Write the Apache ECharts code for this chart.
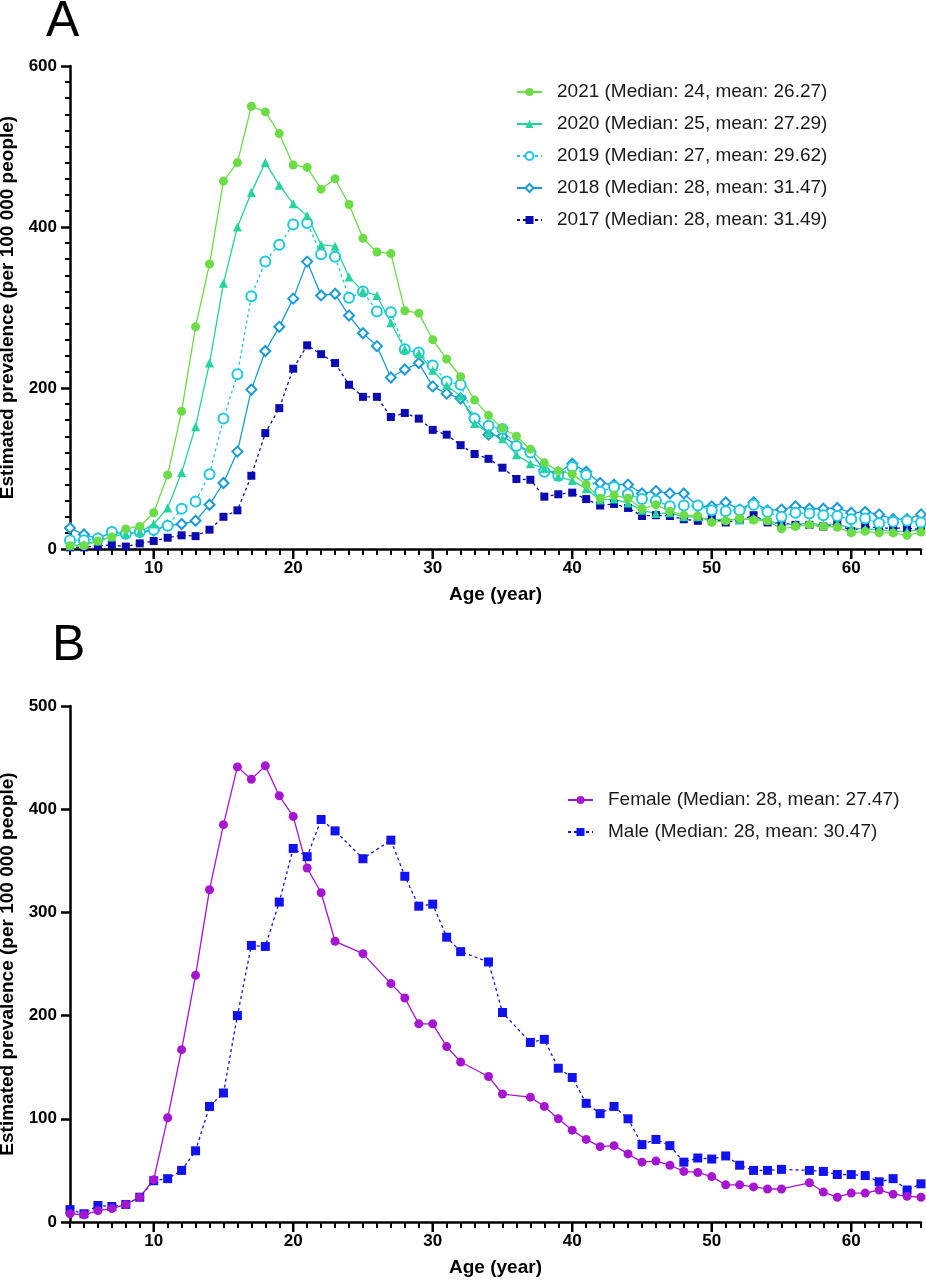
<!DOCTYPE html>
<html><head><meta charset="utf-8">
<script src="https://cdn.jsdelivr.net/npm/echarts@6/dist/echarts.min.js"></script>
<style>html,body{margin:0;padding:0;background:#fff}#c{width:926px;height:1280px}</style>
</head><body><div id="c"></div>
<script>
// ---------- DATA ----------
const ages = [4,5,6,7,8,9,10,11,12,13,14,15,16,17,18,19,20,21,22,23,24,25,26,27,28,29,30,31,32,33,34,35,36,37,38,39,40,41,42,43,44,45,46,47,48,49,50,51,52,53,54,55,56,57,58,59,60,61,62,63,64,65];
const xTickLabels = [10,20,30,40,50,60];

const namesA = ['2021 (Median: 24, mean: 26.27)','2020 (Median: 25, mean: 27.29)','2019 (Median: 27, mean: 29.62)','2018 (Median: 28, mean: 31.47)','2017 (Median: 28, mean: 31.49)'];
const prev2021 = [4,4,10,15,25,28,45,92,171,276,354,457,480,550,543,516,477,474,447,460,428,386,369,367,296,293,260,236,214,185,166,150,140,124,107,97,93,80,63,67,63,50,55,47,42,41,33,35,38,36,35,25,28,30,28,27,20,22,20,20,17,21];
const prev2020 = [4,6,10,15,19,21,31,51,95,152,231,330,400,443,480,452,429,414,378,376,338,320,315,281,248,243,222,203,190,156,144,137,117,106,100,90,85,75,61,62,57,48,44,45,40,40,36,37,36,38,36,30,31,32,30,31,26,25,24,22,22,24];
const prev2019 = [11,11,13,21,19,21,24,29,50,59,93,162,217,314,357,378,403,405,366,363,312,320,295,294,248,244,228,208,204,162,153,149,128,120,96,91,102,92,71,77,68,62,60,53,54,54,48,47,48,55,46,40,45,44,42,41,37,38,32,34,35,33];
const prev2018 = [26,18,13,21,19,21,23,29,31,35,55,82,121,198,246,276,311,357,315,317,290,268,252,213,223,231,202,193,187,162,142,140,129,121,98,95,106,96,82,80,80,69,72,69,69,53,53,58,49,58,48,49,53,50,50,51,45,46,43,37,37,43];
const prev2017 = [2,2,4,5,3,7,10,14,17,16,24,40,48,91,144,175,224,253,242,231,204,189,189,164,169,162,148,142,129,118,112,101,87,86,65,68,70,62,54,56,51,41,42,41,37,35,38,33,36,42,33,32,30,30,28,32,22,28,26,26,26,24];

const namesB = ['Female (Median: 28, mean: 27.47)','Male (Median: 28, mean: 30.47)'];
const prevFemale = [8,7,11,13,17,24,41,101,167,239,322,385,441,429,442,413,393,343,319,272,null,260,null,231,217,192,192,170,155,null,141,124,null,121,112,100,89,80,73,74,66,58,59,55,49,48,44,36,36,34,32,32,null,38,29,24,28,28,31,27,25,24];
const prevMale = [12,8,16,15,17,24,40,42,50,69,112,125,200,268,267,310,362,354,390,379,null,352,null,370,335,306,308,276,262,null,252,203,null,174,177,149,140,115,105,112,100,75,80,74,58,62,61,64,55,50,50,51,null,50,49,46,46,45,39,42,31,37];

const yTitle = 'Estimated prevalence (per 100 000 people)';
const xTitle = 'Age (year)';

// ---------- CHART ----------
const FONT = '"Liberation Sans", Arial, sans-serif';
const pairs = vals => ages.map((a, i) => [a, vals[i]]);

function xAxis(grid) {
  return { gridIndex: grid, type: 'value', position: 'bottom', min: 4, max: 65, interval: 1,
    axisLine: { show: true, onZero: false, lineStyle: { color: '#000', width: 2.5 } },
    axisTick: { show: true, length: 6, lineStyle: { color: '#000', width: 2 } },
    axisLabel: { show: true, fontSize: 17, fontWeight: 'bold', color: '#000', fontFamily: FONT, margin: 11,
                 formatter: v => (xTickLabels.indexOf(v) >= 0 ? String(v) : '') },
    splitLine: { show: false },
    name: xTitle, nameLocation: 'middle', nameGap: 36,
    nameTextStyle: { fontSize: 19, fontWeight: 'bold', color: '#000', fontFamily: FONT } };
}

function yAxis(grid, max, interval, minor) {
  return { gridIndex: grid, type: 'value', min: 0, max: max, interval: interval,
    axisLine: { show: true, lineStyle: { color: '#000', width: 2.5 } },
    axisTick: { show: true, length: 9, lineStyle: { color: '#000', width: 2.5 } },
    minorTick: { show: minor, splitNumber: 10, length: 5, lineStyle: { color: '#000', width: 2 } },
    splitLine: { show: false }, minorSplitLine: { show: false },
    axisLabel: { fontSize: 17, fontWeight: 'bold', color: '#000', fontFamily: FONT, margin: 13 },
    name: yTitle, nameLocation: 'middle', nameGap: 52,
    nameTextStyle: { fontSize: 19, fontWeight: 'bold', color: '#000', fontFamily: FONT } };
}

function ser(name, vals, xi, yi, color, symbol, size, dashed, empty) {
  return { name: name, type: 'line', xAxisIndex: xi, yAxisIndex: yi, data: pairs(vals),
    symbol: symbol, symbolSize: size, showSymbol: true, clip: false, connectNulls: true,
    lineStyle: { color: color, width: 1.3, type: dashed ? [3, 3] : 'solid' },
    itemStyle: empty ? { color: color, borderColor: color, borderWidth: 2.5 } : { color: color, borderWidth: 0 },
    emphasis: { disabled: true }, z: 3 };
}

const cA = ['#6bdc45', '#25d49c', '#1ec8e0', '#1a9bd7', '#0b0baf'];
const cF = '#a616d0', cM = '#1212ee';

const legendText = { fontSize: 19, color: '#1a1a1a', fontFamily: FONT, padding: [0, 0, 0, 10], lineHeight: 20 };

const letters = [
  { type: 'text', left: 46, top: -3, style: { text: 'A', fontSize: 50, fontFamily: FONT, fill: '#000' } },
  { type: 'text', left: 52, top: 621, style: { text: 'B', fontSize: 50, fontFamily: FONT, fill: '#000' } }
];

const option = {
  animation: false,
  backgroundColor: '#fff',
  grid: [
    { left: 70, top: 66, width: 851, height: 483, containLabel: false, outerBoundsMode: 'none' },
    { left: 70, top: 706, width: 851, height: 516, containLabel: false, outerBoundsMode: 'none' }
  ],
  xAxis: [xAxis(0), xAxis(1)],
  yAxis: [yAxis(0, 600, 200, true), yAxis(1, 500, 100, false)],
  legend: [
    { orient: 'vertical', left: 511, top: 77, itemWidth: 25, itemHeight: 10, itemGap: 12,
      data: namesA, textStyle: legendText, selectedMode: false },
    { orient: 'vertical', left: 562, top: 785, itemWidth: 25, itemHeight: 10, itemGap: 12,
      data: namesB, textStyle: legendText, selectedMode: false }
  ],
  graphic: letters,
  series: [
    ser(namesA[4], prev2017, 0, 0, cA[4], 'rect', 8, true, false),
    ser(namesA[3], prev2018, 0, 0, cA[3], 'emptyDiamond', 10, false, true),
    ser(namesA[2], prev2019, 0, 0, cA[2], 'emptyCircle', 10, true, true),
    ser(namesA[1], prev2020, 0, 0, cA[1], 'triangle', 9, false, false),
    ser(namesA[0], prev2021, 0, 0, cA[0], 'circle', 9, false, false),
    ser(namesB[1], prevMale, 1, 1, cM, 'rect', 9, true, false),
    ser(namesB[0], prevFemale, 1, 1, cF, 'circle', 9, false, false)
  ]
};

const chart = echarts.init(document.getElementById('c'), null, { renderer: 'canvas' });
chart.setOption(option);

// longer x-axis ticks every 10 years, positioned through each grid's own scale
try {
  const tickEls = [];
  [0, 1].forEach(g => {
    xTickLabels.forEach(a => {
      const p = chart.convertToPixel({ gridIndex: g }, [a, 0]);
      if (p && isFinite(p[0]) && isFinite(p[1])) {
        tickEls.push({ type: 'line', silent: true, z: 100,
          shape: { x1: p[0], y1: p[1], x2: p[0], y2: p[1] + 10 },
          style: { stroke: '#000', lineWidth: 2.5 } });
      }
    });
  });
  chart.setOption({ graphic: letters.concat(tickEls) });
} catch (e) { console.error(e); }
</script>
</body></html>
